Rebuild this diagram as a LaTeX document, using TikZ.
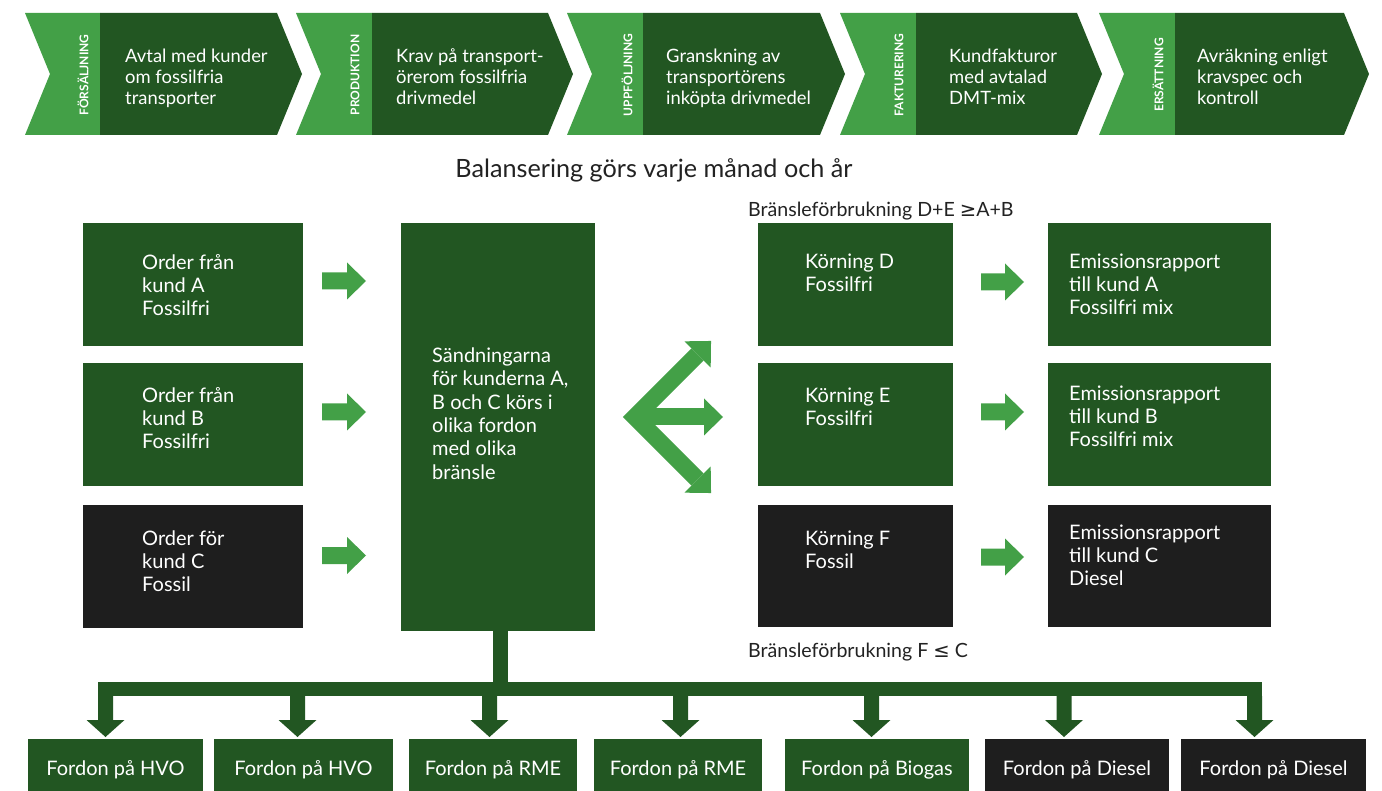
\documentclass[tikz,border=0pt]{standalone}
\usepackage{fontspec}
\setmainfont{Lato}
\newfontfamily\symfont{DejaVu Sans}
\usetikzlibrary{calc}
\definecolor{dg}{HTML}{225622}
\definecolor{lg}{HTML}{43A047}
\definecolor{bk}{HTML}{1E1E1E}
\definecolor{tx}{HTML}{222222}
\tikzset{
  gbox/.style={fill=dg, inner sep=0pt, outer sep=0pt, anchor=north west},
  kbox/.style={gbox, fill=bk},
  btxt/.style={text=white, align=left, inner sep=0pt, anchor=north west,
    font=\fontsize{20}{23}\selectfont, execute at begin node=\strut},
  ctxt/.style={btxt, font=\fontsize{18.4}{21}\selectfont},
  vlbl/.style={text=white, rotate=90, inner sep=0pt, font=\fontsize{12}{13}\selectfont\bfseries},
  lbl/.style={text=tx, inner sep=0pt, anchor=base west, font=\fontsize{19.6}{23}\selectfont},
  fbox/.style={gbox, minimum height=62, text=white, font=\fontsize{20}{23}\selectfont},
  pics/rarrow/.style 2 args={code={%
    \fill[#2] (0,-8.5) -- (#1,-8.5) -- (#1,-18.5) -- ({#1+19},0) -- (#1,18.5) -- (#1,8.5) -- (0,8.5) -- cycle;}},
  pics/ahead/.style={code={\fill[lg] (0,-18.5) -- (19,0) -- (0,18.5) -- cycle;}},
  pics/drop/.style={code={%
    \fill[dg] (-7.5,0) -- (-7.5,24) -- (-19,24) -- (0,41) -- (19,24) -- (7.5,24) -- (7.5,0) -- cycle;}},
}
\newcommand\chev[4]{% L, B, R, name
  \fill[lg] (#1,13) -- (#2,13) -- (#2,135) -- (#1,135) -- ({#1+25},74) -- cycle;
  \fill[dg] (#2,13) -- (#3,13) -- ({#3+25},74) -- (#3,135) -- (#2,135) -- cycle;
}
\begin{document}
\begin{tikzpicture}[x=1pt,y=-1pt]
\useasboundingbox (0,0) rectangle (1382,791);
\fill[white] (0,0) rectangle (1382,791);

% top chevrons
\chev{25}{100}{277}{c1}
\chev{296}{372}{548}{c2}
\chev{567}{643}{820}{c3}
\chev{840}{916}{1077}{c4}
\chev{1099}{1175}{1344}{c5}
\node[vlbl] (v1) at (83,75) {FÖRSÄLJNING};
\node[vlbl] (v2) at (355,75) {PRODUKTION};
\node[vlbl] (v3) at (627,75) {UPPFÖLJNING};
\node[vlbl] (v4) at (899,75) {FAKTURERING};
\node[vlbl] (v5) at (1158,75) {ERSÄTTNING};
\node[ctxt] (t1) at (125,48.3) {Avtal med kunder\\om fossilfria\\transporter};
\node[ctxt] (t2) at (396,48.3) {Krav på transport-\\örerom fossilfria\\drivmedel};
\node[ctxt] (t3) at (666,48.3) {Granskning av\\transportörens\\inköpta drivmedel};
\node[ctxt] (t4) at (949,48.3) {Kundfakturor\\med avtalad\\DMT-mix};
\node[ctxt] (t5) at (1197,48.3) {Avräkning enligt\\kravspec och\\kontroll};

% title
\node[text=tx, inner sep=0pt, font=\fontsize{25.2}{28}\selectfont] (title) at (654,170) {Balansering görs varje månad och år};

% left boxes
\node[gbox, minimum width=220, minimum height=123] (oA) at (83,223) {};
\node[gbox, minimum width=220, minimum height=123] (oB) at (83,363) {};
\node[kbox, minimum width=220, minimum height=123] (oC) at (83,505) {};
\node[btxt] (toA) at ($(oA.north west)+(59,31)$) {Order från\\kund A\\Fossilfri};
\node[btxt] (toB) at ($(oB.north west)+(59,24.4)$) {Order från\\kund B\\Fossilfri};
\node[btxt] (toC) at ($(oC.north west)+(59,25.4)$) {Order för\\kund C\\Fossil};

% central box
\node[gbox, minimum width=194, minimum height=408] (c) at (401,223) {};
\node[btxt, font=\fontsize{20}{23.4}\selectfont] (tc) at ($(c.north west)+(31,124.4)$) {Sändningarna\\för kunderna A,\\B och C körs i\\olika fordon\\med olika\\bränsle};

% small arrows left
\pic at ($(oA.east)+(19,-3.5)$) {rarrow={25}{lg}};
\pic at ($(oB.east)+(19,-12.5)$) {rarrow={25}{lg}};
\pic at ($(oC.east)+(19,-11)$) {rarrow={25}{lg}};

% fork arrow
\coordinate (V) at (635,417);
\coordinate (hu) at (697.6,354.4);
\coordinate (hl) at (697.6,479.6);
\coordinate (hm) at (704,417);
\draw[lg, line width=17pt, line join=miter] (hu) -- (V) -- (hl);
\draw[lg, line width=17pt] (V) -- (hm);
\pic[rotate=45] at (hu) {ahead};
\pic[rotate=-45] at (hl) {ahead};
\pic at (hm) {ahead};

% right side
\node[lbl] (l1) at (748,216.5) {Bränsleförbrukning D+E {\symfont ≥}A+B};
\node[lbl] (l2) at (748,657) {Bränsleförbrukning F {\symfont ≤} C};

\node[gbox, minimum width=195, minimum height=123] (kD) at (758,223) {};
\node[gbox, minimum width=195, minimum height=123] (kE) at (758,363) {};
\node[kbox, minimum width=195, minimum height=122] (kF) at (758,505) {};
\node[btxt] (tkD) at ($(kD.north west)+(47,30.4)$) {Körning D\\Fossilfri};
\node[btxt] (tkE) at ($(kE.north west)+(47,24.4)$) {Körning E\\Fossilfri};
\node[btxt] (tkF) at ($(kF.north west)+(47,25.4)$) {Körning F\\Fossil};

\node[gbox, minimum width=223, minimum height=123] (eA) at (1048,223) {};
\node[gbox, minimum width=223, minimum height=123] (eB) at (1048,363) {};
\node[kbox, minimum width=223, minimum height=122] (eC) at (1048,505) {};
\node[btxt] (teA) at ($(eA.north west)+(21,30.4)$) {Emissionsrapport\\till kund A\\Fossilfri mix};
\node[btxt] (teB) at ($(eB.north west)+(21,22.4)$) {Emissionsrapport\\till kund B\\Fossilfri mix};
\node[btxt] (teC) at ($(eC.north west)+(21,19.4)$) {Emissionsrapport\\till kund C\\Diesel};

\pic at ($(kD.east)+(28,-2.5)$) {rarrow={24}{lg}};
\pic at ($(kE.east)+(28,-12.5)$) {rarrow={24}{lg}};
\pic at ($(kF.east)+(28,-9)$) {rarrow={24}{lg}};

% bus
\fill[dg] ($(c.south)+(-5,0)$) rectangle (508,682);
\fill[dg] (98,682) rectangle (1262,696);
\foreach \x in {105.5,297.5,489.5,680.5,871.5,1064,1254.5}{
  \pic at (\x,696) {drop};
}

% bottom boxes
\node[fbox, minimum width=175] (f1) at (28,739) {Fordon på HVO};
\node[fbox, minimum width=179] (f2) at (214,739) {Fordon på HVO};
\node[fbox, minimum width=168] (f3) at (409,739) {Fordon på RME};
\node[fbox, minimum width=168] (f4) at (594,739) {Fordon på RME};
\node[fbox, minimum width=184] (f5) at (785,739) {Fordon på Biogas};
\node[fbox, fill=bk, minimum width=184] (f6) at (985,739) {Fordon på Diesel};
\node[fbox, fill=bk, minimum width=185] (f7) at (1181,739) {Fordon på Diesel};
\end{tikzpicture}
\end{document}
